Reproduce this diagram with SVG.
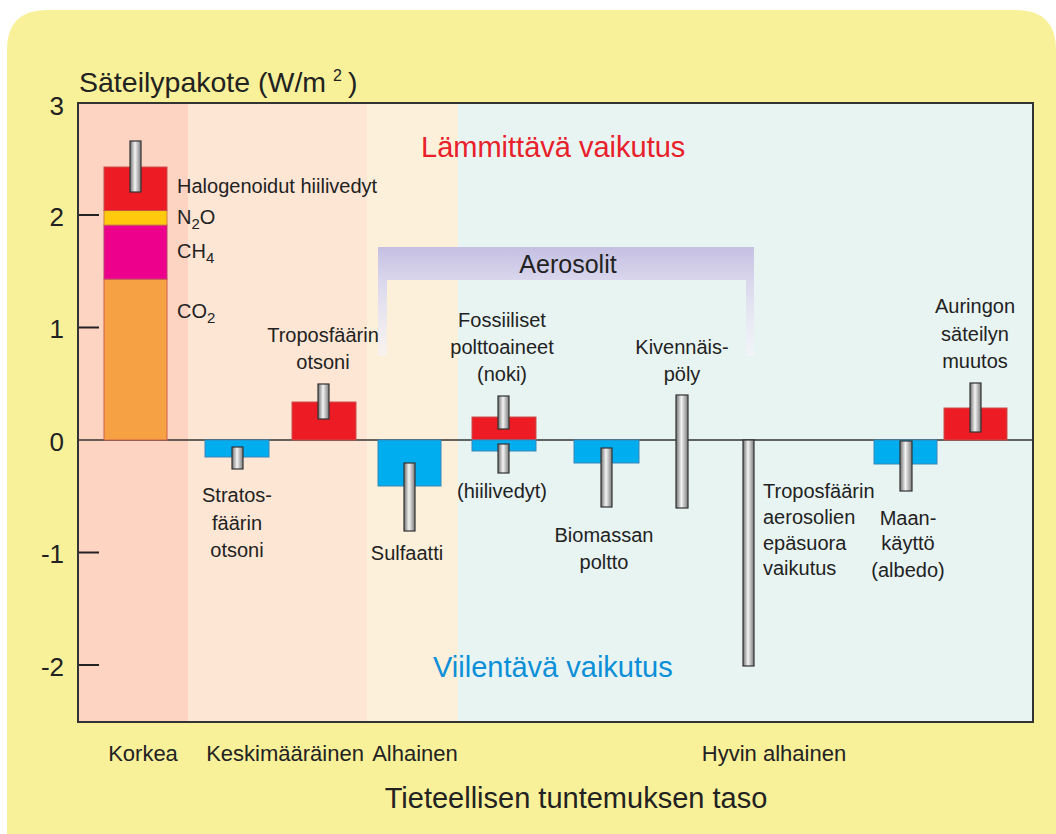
<svg xmlns="http://www.w3.org/2000/svg" width="1056" height="834" viewBox="0 0 1056 834">
<defs>
<linearGradient id="eb" x1="0" y1="0" x2="1" y2="0">
<stop offset="0" stop-color="#6e6e6e"/>
<stop offset="0.45" stop-color="#f4f4f4"/>
<stop offset="1" stop-color="#7a7a7a"/>
</linearGradient>
<linearGradient id="aer" gradientUnits="userSpaceOnUse" x1="0" y1="247" x2="0" y2="358">
<stop offset="0" stop-color="#c5c0e2"/>
<stop offset="0.3" stop-color="#d9d6ed"/>
<stop offset="1" stop-color="#f6f5fb" stop-opacity="0.6"/>
</linearGradient>
<style>
text{font-family:"Liberation Sans",Arial,sans-serif;fill:#222}
.lbl{font-size:20px;text-anchor:middle}
.lbll{font-size:20px}
.bot{font-size:22px;text-anchor:middle}
.tick{font-size:26px;text-anchor:end}
.eb{fill:url(#eb);stroke:#333;stroke-width:1.2}
.red{fill:#ed1c24;stroke:#c8504a;stroke-width:1}
.blue{fill:#00aeef;stroke:#3a86b8;stroke-width:1}
.axis{stroke:#333;stroke-width:2;fill:none}
</style>
</defs>
<path d="M47,10 H1016 Q1056,10 1056,50 V834 H7 V50 Q7,10 47,10 Z" fill="#f8f199"/>
<g id="bands">
<rect x="78" y="103" width="110" height="619" fill="#fdd3c2"/>
<rect x="188" y="103" width="179" height="619" fill="#fee6d5"/>
<rect x="367" y="103" width="91" height="619" fill="#fdf0da"/>
<rect x="458" y="103" width="575" height="619" fill="#e8f4f2"/>
</g>
<g id="aerosolit">
<path d="M378,247 H754 V356 H746 V280 H387 V356 H378 Z" fill="url(#aer)"/>
<text x="568" y="273" style="font-size:25px;text-anchor:middle">Aerosolit</text>
</g>
<g id="axes">
<line x1="78" y1="440" x2="1033" y2="440" stroke="#333" stroke-width="1.5"/>
<g stroke="#222" stroke-width="2">
<line x1="78" y1="215" x2="99" y2="215"/>
<line x1="78" y1="327.5" x2="99" y2="327.5"/>
<line x1="78" y1="552.5" x2="99" y2="552.5"/>
<line x1="78" y1="665" x2="99" y2="665"/>
</g>
<text class="tick" x="64" y="115">3</text>
<text class="tick" x="64" y="226">2</text>
<text class="tick" x="64" y="338">1</text>
<text class="tick" x="64" y="451">0</text>
<text class="tick" x="64" y="563">-1</text>
<text class="tick" x="64" y="676">-2</text>
<text x="79" y="92" style="font-size:28.5px">Säteilypakote (W/m</text>
<text x="333" y="81" style="font-size:16px">2</text>
<text x="348" y="92" style="font-size:28.5px">)</text>
<text x="421" y="157" style="font-size:29px;fill:#e8202a">Lämmittävä vaikutus</text>
<text x="433" y="677" style="font-size:29px;fill:#0a8fd8">Viilentävä vaikutus</text>
<text class="bot" x="143" y="761">Korkea</text>
<text class="bot" x="285" y="761">Keskimääräinen</text>
<text class="bot" x="415" y="761">Alhainen</text>
<text class="bot" x="774" y="761">Hyvin alhainen</text>
<text x="576" y="808" style="font-size:29px;text-anchor:middle">Tieteellisen tuntemuksen taso</text>
</g>
<g id="kasvihuonekaasut">
<rect x="104" y="279" width="63" height="161" fill="#f7a145" stroke="#d0604a" stroke-width="1"/>
<rect x="104" y="225" width="63" height="54" fill="#ec008c" stroke="#c0406a" stroke-width="1"/>
<rect x="104" y="210.5" width="63" height="14.5" fill="#ffc90e" stroke="#d08040" stroke-width="1"/>
<rect x="104" y="167" width="63" height="43.5" class="red"/>
<rect x="130" y="141" width="11" height="51" class="eb"/>
<text class="lbll" x="177" y="193">Halogenoidut hiilivedyt</text>
<text class="lbll" x="177" y="224">N<tspan dy="5" style="font-size:15px">2</tspan><tspan dy="-5">O</tspan></text>
<text class="lbll" x="177" y="258">CH<tspan dy="5" style="font-size:15px">4</tspan></text>
<text class="lbll" x="177" y="318">CO<tspan dy="5" style="font-size:15px">2</tspan></text>
</g>
<g id="stratosfaarin-otsoni">
<rect x="205" y="440" width="64" height="17" class="blue"/>
<rect x="232" y="447" width="11" height="22" class="eb"/>
<text class="lbl" x="237" y="502">Stratos-</text>
<text class="lbl" x="237" y="530">fäärin</text>
<text class="lbl" x="237" y="557">otsoni</text>
</g>
<g id="troposfaarin-otsoni">
<rect x="292" y="402" width="64" height="38" class="red"/>
<rect x="318" y="384" width="11" height="35" class="eb"/>
<text class="lbl" x="323" y="342">Troposfäärin</text>
<text class="lbl" x="323" y="369">otsoni</text>
</g>
<g id="sulfaatti">
<rect x="378" y="440" width="63" height="46" class="blue"/>
<rect x="404" y="463" width="11" height="68" class="eb"/>
<text class="lbl" x="407" y="560">Sulfaatti</text>
</g>
<g id="fossiiliset">
<rect x="472" y="417" width="64" height="23" class="red"/>
<rect x="472" y="440" width="64" height="11" class="blue"/>
<rect x="498" y="396" width="11" height="33" class="eb"/>
<rect x="498" y="444" width="11" height="29" class="eb"/>
<text class="lbl" x="502" y="327">Fossiiliset</text>
<text class="lbl" x="502" y="354">polttoaineet</text>
<text class="lbl" x="502" y="381">(noki)</text>
<text class="lbl" x="502" y="498">(hiilivedyt)</text>
</g>
<g id="biomassa">
<rect x="574" y="440" width="65" height="23" class="blue"/>
<rect x="601" y="448" width="11" height="59" class="eb"/>
<text class="lbl" x="604" y="542">Biomassan</text>
<text class="lbl" x="604" y="569">poltto</text>
</g>
<g id="kivennaispoly">
<rect x="676" y="395" width="12" height="113" class="eb"/>
<text class="lbl" x="682" y="354">Kivennäis-</text>
<text class="lbl" x="682" y="381">pöly</text>
</g>
<g id="epasuora">
<rect x="743" y="440" width="11" height="226" class="eb"/>
<text class="lbll" x="763" y="498">Troposfäärin</text>
<text class="lbll" x="763" y="524">aerosolien</text>
<text class="lbll" x="763" y="550">epäsuora</text>
<text class="lbll" x="763" y="575">vaikutus</text>
</g>
<g id="maankaytto">
<rect x="874" y="440" width="63" height="24" class="blue"/>
<rect x="900" y="441" width="12" height="50" class="eb"/>
<text class="lbl" x="908" y="525">Maan-</text>
<text class="lbl" x="908" y="550">käyttö</text>
<text class="lbl" x="908" y="577">(albedo)</text>
</g>
<g id="aurinko">
<rect x="944" y="408" width="63" height="32" class="red"/>
<rect x="970" y="383" width="11" height="49" class="eb"/>
<text class="lbl" x="975" y="313">Auringon</text>
<text class="lbl" x="975" y="341">säteilyn</text>
<text class="lbl" x="975" y="368">muutos</text>
</g>
<rect x="78" y="103" width="955" height="619" class="axis"/>
<g id="connectors"/>
</svg>
